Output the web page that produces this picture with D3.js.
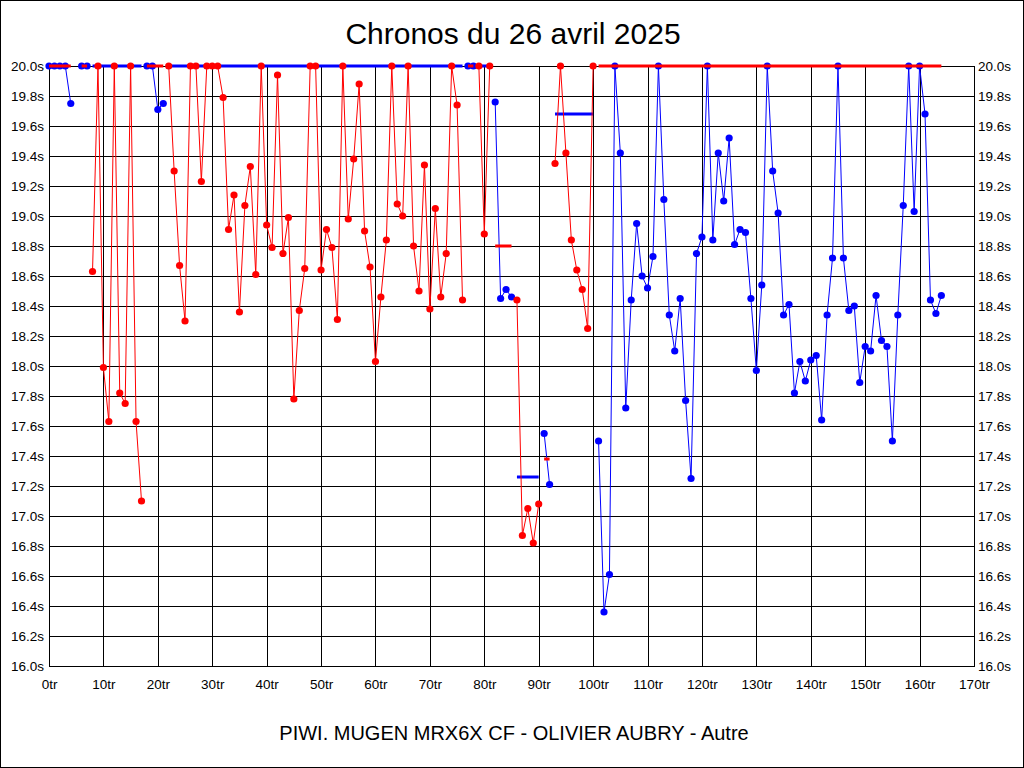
<!DOCTYPE html>
<html>
<head>
<meta charset="utf-8">
<script src="https://cdn.jsdelivr.net/npm/d3@7"></script>
<style>
  html, body { margin: 0; padding: 0; background: #fff; }
  svg { display: block; }
  text { font-family: "Liberation Sans", Arial, sans-serif; }
</style>
</head>
<body>
<svg id="chart" width="1024" height="768"></svg>
<script>
// ---- data (index = lap number, null = no lap recorded) ----
const lapTimes = [
  20.0, 20.0, 20.0, 20.0, 19.75, null, 20.0, 20.0, 18.63, 20.0,
  17.99, 17.63, 20.0, 17.82, 17.75, 20.0, 17.63, 17.10, 20.0, 20.0,
  19.71, 19.75, 20.0, 19.30, 18.67, 18.30, 20.0, 20.0, 19.23, 20.0,
  20.0, 20.0, 19.79, 18.91, 19.14, 18.36, 19.07, 19.33, 18.61, 20.0,
  18.94, 18.79, 19.94, 18.75, 18.99, 17.78, 18.37, 18.65, 20.0, 20.0,
  18.64, 18.91, 18.79, 18.31, 20.0, 18.98, 19.38, 19.88, 18.90, 18.66,
  18.03, 18.46, 18.84, 20.0, 19.08, 19.00, 20.0, 18.80, 18.50, 19.34,
  18.38, 19.05, 18.46, 18.75, 20.0, 19.74, 18.44, 20.0, 20.0, 20.0,
  18.88, 20.0, 19.76, 18.45, 18.51, 18.46, 18.44, 16.87, 17.05, 16.82,
  17.08, 17.55, 17.21, 19.35, 20.0, 19.42, 18.84, 18.64, 18.51, 18.25,
  20.0, 17.50, 16.36, 16.61, 20.0, 19.42, 17.72, 18.44, 18.95, 18.60,
  18.52, 18.73, 20.0, 19.11, 18.34, 18.10, 18.45, 17.77, 17.25, 18.75,
  18.86, 20.0, 18.84, 19.42, 19.10, 19.52, 18.81, 18.91, 18.89, 18.45,
  17.97, 18.54, 20.0, 19.30, 19.02, 18.34, 18.41, 17.82, 18.03, 17.90,
  18.04, 18.07, 17.64, 18.34, 18.72, 20.0, 18.72, 18.37, 18.40, 17.89,
  18.13, 18.10, 18.47, 18.17, 18.13, 17.50, 18.34, 19.07, 20.0, 19.03,
  20.0, 19.68, 18.44, 18.35, 18.47
];
const stintStart   = [0, 6, 8, 18, 22, 77, 79, 82, 86, 91, 93, 101];
const stintEnd     = [4, 7, 17, 21, 76, 78, 81, 85, 90, 92, 100, 164];
const stintSeries  = ["A", "A", "B", "A", "B", "A", "B", "A", "B", "A", "B", "A"];
const stintAverage = [20.0, 20.0, 20.0, 20.0, 20.0, 20.0, 20.0, 18.80, 17.26, 17.38, 19.68, 20.0];
const xTicks = [0, 10, 20, 30, 40, 50, 60, 70, 80, 90, 100, 110, 120, 130, 140, 150, 160, 170];
const yTicks = [16.0, 16.2, 16.4, 16.6, 16.8, 17.0, 17.2, 17.4, 17.6, 17.8, 18.0,
                18.2, 18.4, 18.6, 18.8, 19.0, 19.2, 19.4, 19.6, 19.8, 20.0];
const chartTitle = "Chronos du 26 avril 2025";
const chartSubtitle = "PIWI. MUGEN MRX6X CF - OLIVIER AUBRY - Autre";

// ---- layout ----
const plotL = 49, plotR = 974, plotT = 66, plotB = 666;
const svg = d3.select("#chart");
const x = d3.scaleLinear().domain([0, 170]).range([plotL, plotR]);
const y = d3.scaleLinear().domain([16, 20]).range([plotB, plotT]);
const seriesColor = d3.scaleOrdinal().domain(["A", "B"]).range(["#0000ff", "#ff0000"]);
const otherSeries = s => (s === "A" ? "B" : "A");

svg.append("rect").attr("x", 0).attr("y", 0).attr("width", 1024).attr("height", 768).attr("fill", "#fff");
svg.append("rect").attr("x", 0.5).attr("y", 0.5).attr("width", 1023).attr("height", 767)
  .attr("fill", "none").attr("stroke", "#000");

// grid + axes
const gx = svg.append("g").attr("transform", `translate(0,${plotB})`)
  .call(d3.axisBottom(x).tickValues(xTicks).tickSize(-(plotB - plotT)).tickPadding(13).tickFormat(d => d + "tr"));
const gy = svg.append("g").attr("transform", `translate(${plotL},0)`)
  .call(d3.axisLeft(y).tickValues(yTicks).tickSize(-(plotR - plotL)).tickPadding(5).tickFormat(d => d.toFixed(1) + "s"));
const gr = svg.append("g").attr("transform", `translate(${plotR},0)`)
  .call(d3.axisRight(y).tickValues(yTicks).tickSize(0).tickPadding(4).tickFormat(d => d.toFixed(1) + "s"));
[gx, gy, gr].forEach(g => {
  g.select(".domain").remove();
  g.selectAll("line").attr("stroke", "#000").attr("shape-rendering", "crispEdges");
  g.selectAll("text").attr("fill", "#000").attr("font-size", 13.5)
    .attr("font-family", "'Liberation Sans', Arial, sans-serif");
});
svg.append("rect").attr("x", plotL).attr("y", plotT).attr("width", plotR - plotL).attr("height", plotB - plotT)
  .attr("fill", "none").attr("stroke", "#000").attr("shape-rendering", "crispEdges");

const stints = stintStart.map((s, i) => ({
  series: stintSeries[i], avg: stintAverage[i], from: s, to: stintEnd[i],
  pts: d3.range(s, stintEnd[i] + 1).filter(l => lapTimes[l] != null).map(l => ({ lap: l, t: lapTimes[l] }))
}));

const line = d3.line().x(d => x(d.lap)).y(d => y(d.t));

function drawSeries(name) {
  const g = svg.append("g");
  stints.filter(s => s.series === name).forEach(s => {
    g.append("path").datum(s.pts).attr("d", line).attr("fill", "none")
      .attr("stroke", seriesColor(name)).attr("stroke-width", 1);
    g.selectAll(null).data(s.pts).enter().append("circle")
      .attr("cx", d => x(d.lap)).attr("cy", d => y(d.t)).attr("r", 3.6)
      .attr("fill", seriesColor(name));
  });
}

drawSeries("A");
// stint average bars (colour of the other series)
svg.append("g").selectAll("line").data(stints).enter().append("line")
  .attr("x1", d => x(d.from)).attr("x2", d => x(d.to))
  .attr("y1", d => y(d.avg)).attr("y2", d => y(d.avg))
  .attr("stroke", d => seriesColor(otherSeries(d.series))).attr("stroke-width", 3);
drawSeries("B");

svg.append("text").attr("x", 513).attr("y", 44).attr("text-anchor", "middle")
  .attr("font-size", 30).attr("fill", "#000").text(chartTitle);
svg.append("text").attr("x", 514).attr("y", 740).attr("text-anchor", "middle")
  .attr("font-size", 20).attr("fill", "#000").text(chartSubtitle);
</script>
</body>
</html>
